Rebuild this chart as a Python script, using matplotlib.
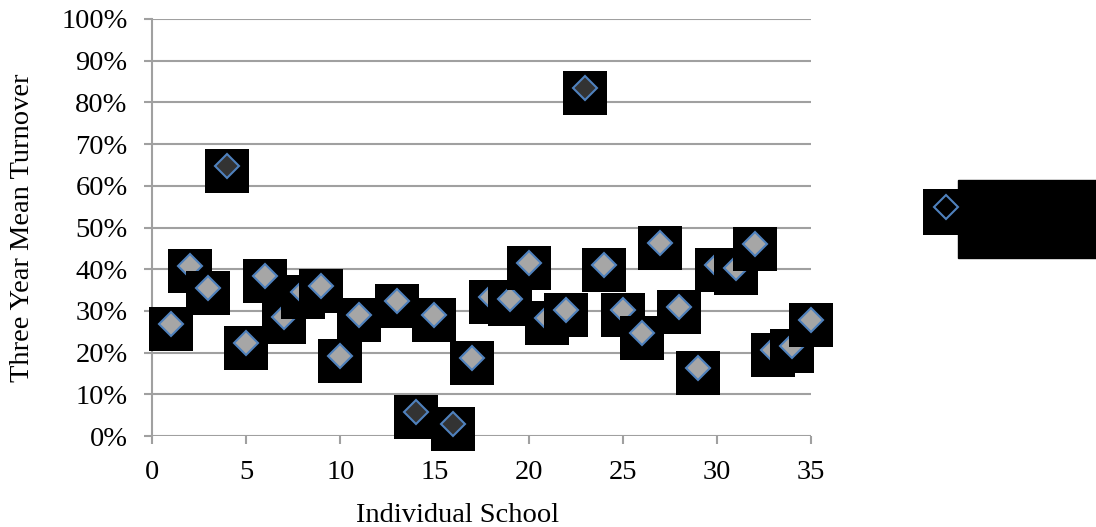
import matplotlib.pyplot as plt
from matplotlib.lines import Line2D
from matplotlib.patches import Rectangle
from matplotlib.transforms import offset_copy
from matplotlib.ticker import PercentFormatter

# escuelas (la 12 no tiene dato)
escuelas = [1, 2, 3, 4, 5, 6, 7, 8, 9, 10, 11, 13, 14, 15, 16, 17, 18,
            19, 20, 21, 22, 23, 24, 25, 26, 27, 28, 29, 30, 31, 32, 33, 34, 35]
rotacion = [0.269, 0.408, 0.354, 0.648, 0.223, 0.384, 0.285, 0.346, 0.360,
            0.192, 0.290, 0.324, 0.058, 0.290, 0.029, 0.187, 0.333, 0.329,
            0.415, 0.283, 0.302, 0.834, 0.410, 0.302, 0.247, 0.463, 0.309,
            0.163, 0.410, 0.403, 0.460, 0.206, 0.216, 0.278]
atipicas = [4, 14, 16, 23]

plt.rcParams['font.family'] = 'Liberation Serif'

fig = plt.figure(figsize=(10.96, 5.27), dpi=100)
ax = fig.add_axes([152/1096, 1 - 436/527, (811-152)/1096, (436-19)/527])

gris = '#a0a0a0'
azul = '#4f81bd'
sombra = offset_copy(ax.transData, fig=fig, x=0, y=-5, units='dots')

# cada punto: cuadro negro y rombo encima
for i, (x, y) in enumerate(zip(escuelas, rotacion)):
    relleno = '#333333' if x in atipicas else '#a6a6a6'
    ax.plot(x, y, marker='s', markersize=31.7, color='black',
            markeredgewidth=0, transform=sombra, zorder=3 + 2*i, clip_on=False)
    ax.plot(x, y, marker='D', markersize=12.5, markerfacecolor=relleno,
            markeredgecolor=azul, markeredgewidth=1.5, zorder=4 + 2*i,
            clip_on=False)

ax.set_xlim(0, 35)
ax.set_ylim(0, 1)
ax.set_xticks(range(0, 36, 5))
ax.set_yticks([i/10 for i in range(11)])
ax.yaxis.set_major_formatter(PercentFormatter(1.0, decimals=0))
ax.grid(axis='y', color=gris, linewidth=1.5)
ax.set_axisbelow(True)

for lado in ['top', 'right', 'bottom']:
    ax.spines[lado].set_visible(False)
ax.spines['left'].set_color(gris)
ax.spines['left'].set_linewidth(1.5)
ax.tick_params(axis='both', colors=gris, width=1.5, length=6,
               labelsize=20.5, labelcolor='black')
ax.tick_params(axis='y', pad=11.5)
ax.tick_params(axis='x', pad=11)

ax.set_xlabel('Individual School', fontsize=20.5, labelpad=13.5)
ax.xaxis.label.set_x(0.463)
ax.set_ylabel('Three Year Mean Turnover', fontsize=20.5, labelpad=19)

# leyenda
fig.add_artist(Rectangle((958/1096, 1 - 258/527), 138/1096, 78/527,
                         transform=fig.transFigure, color='black'))
fig.add_artist(Line2D([946/1096], [1 - 211.5/527], marker='s',
                      markersize=32.5, color='black', markeredgewidth=0,
                      transform=fig.transFigure))
fig.add_artist(Line2D([946/1096], [1 - 206.7/527], marker='D',
                      markersize=12.5, markerfacecolor='none',
                      markeredgecolor=azul, markeredgewidth=1.5,
                      transform=fig.transFigure))

plt.savefig('out.png')
